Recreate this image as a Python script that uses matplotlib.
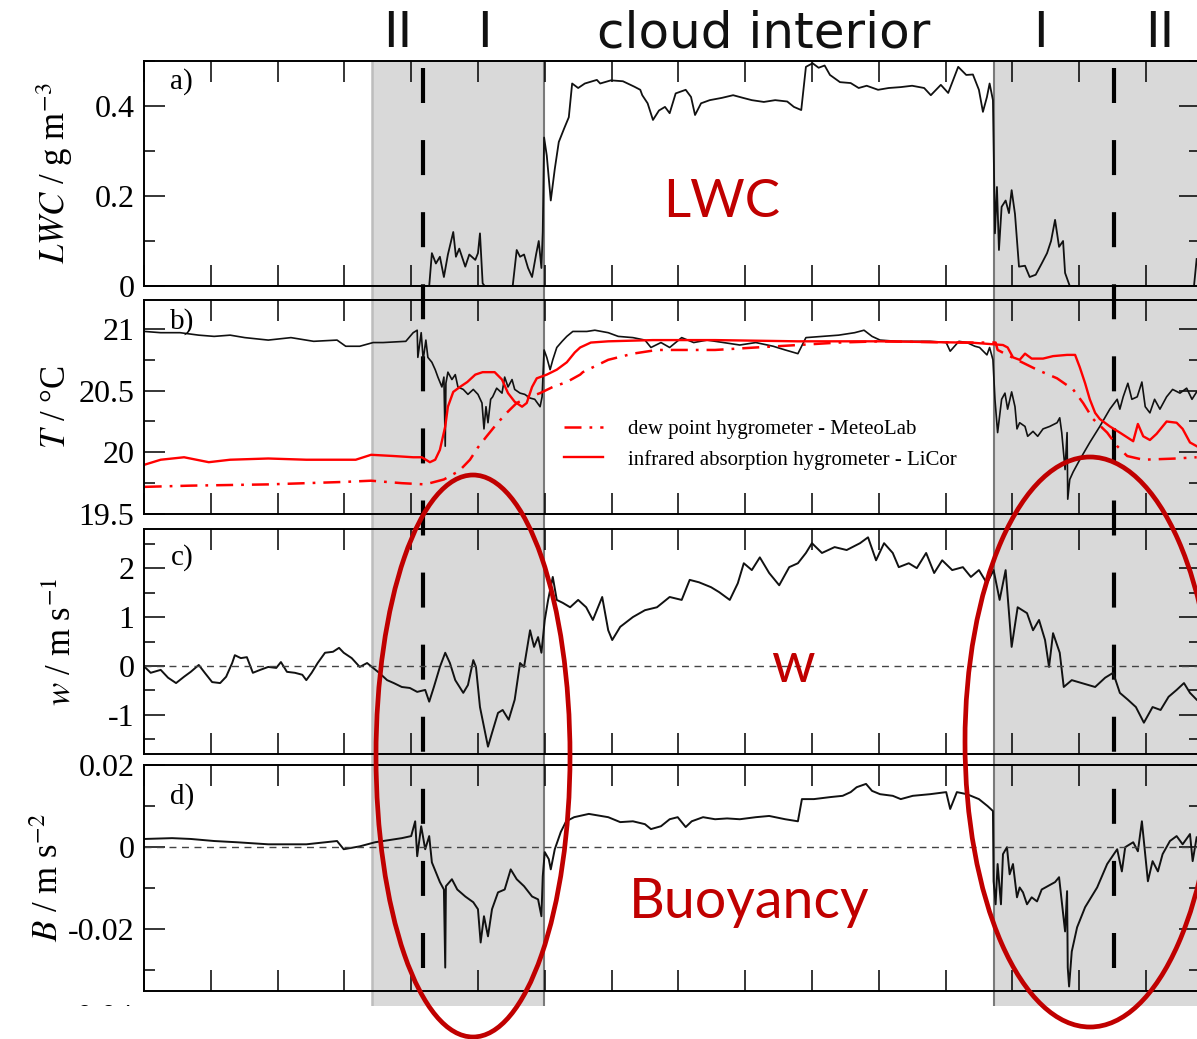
import matplotlib
matplotlib.use("Agg")
import matplotlib.pyplot as plt
from matplotlib.patches import Ellipse, Rectangle
from matplotlib.lines import Line2D
from matplotlib.ticker import MultipleLocator, FuncFormatter

plt.rcParams['font.family'] = 'serif'
plt.rcParams['font.serif'] = ['Liberation Serif', 'DejaVu Serif']
plt.rcParams['mathtext.fontset'] = 'stix'

# ---- data (time in tick units) ----
# a) liquid water content, g m^-3
t_lwc = [0.00, 4.27, 4.31, 4.37, 4.43, 4.49, 4.55, 4.63, 4.67, 4.72, 4.81, 4.87, 4.96, 5.00,
         5.03, 5.07, 5.10, 5.52, 5.58, 5.63, 5.69, 5.75, 5.81, 5.87, 5.91, 5.95, 5.97, 5.99,
         6.03, 6.09, 6.15, 6.21, 6.29, 6.36, 6.41, 6.50, 6.60, 6.78, 6.83, 6.99, 7.17, 7.34,
         7.43, 7.46, 7.54, 7.62, 7.71, 7.80, 7.87, 7.96, 8.11, 8.19, 8.25, 8.34, 8.47, 8.65,
         8.82, 8.97, 9.10, 9.28, 9.45, 9.63, 9.73, 9.84, 9.91, 10.01, 10.10, 10.19, 10.27,
         10.42, 10.58, 10.70, 10.82, 10.99, 11.15, 11.33, 11.50, 11.68, 11.78, 11.93, 12.04,
         12.19, 12.31, 12.41, 12.50, 12.56, 12.62, 12.66, 12.71, 12.74, 12.77, 12.80, 12.84,
         12.90, 12.95, 12.99, 13.04, 13.10, 13.19, 13.26, 13.35, 13.44, 13.52, 13.58, 13.64,
         13.70, 13.76, 13.79, 13.86, 15.72, 15.76]
lwc = [0, 0, 0.073, 0.05, 0.065, 0.02, 0.07, 0.12, 0.065, 0.083, 0.043, 0.07, 0.058, 0.073,
       0.117, 0.006, 0, 0, 0.08, 0.065, 0.07, 0.04, 0.02, 0.07, 0.10, 0.04, 0.12, 0.33,
       0.29, 0.19, 0.26, 0.32, 0.35, 0.375, 0.45, 0.44, 0.45, 0.458, 0.45, 0.457, 0.455, 0.443,
       0.436, 0.424, 0.406, 0.369, 0.39, 0.398, 0.384, 0.428, 0.436, 0.42, 0.38, 0.406, 0.413, 0.418,
       0.424, 0.418, 0.413, 0.409, 0.413, 0.41, 0.398, 0.391, 0.487, 0.495, 0.485, 0.49, 0.469,
       0.453, 0.451, 0.44, 0.445, 0.436, 0.44, 0.442, 0.445, 0.44, 0.424, 0.447, 0.429,
       0.487, 0.469, 0.47, 0.436, 0.387, 0.42, 0.45, 0.413, 0.117, 0.22, 0.08, 0.176,
       0.19, 0.162, 0.213, 0.16, 0.043, 0.045, 0.02, 0.025, 0.05, 0.073, 0.10, 0.147,
       0.087, 0.10, 0.029, 0, 0, 0.06]

# b) temperature and dew points, deg C
t_temp = [0.01, 0.25, 0.54, 0.82, 1.05, 1.29, 1.51, 1.86, 2.20, 2.54, 2.89, 3.02, 3.23, 3.43,
          3.58, 3.92, 4.03, 4.09, 4.10, 4.15, 4.18, 4.22, 4.25, 4.31, 4.36, 4.40, 4.46, 4.49,
          4.51, 4.52, 4.55, 4.61, 4.66, 4.70, 4.78, 4.85, 4.93, 5.00, 5.06, 5.09, 5.12, 5.15,
          5.19, 5.22, 5.28, 5.36, 5.40, 5.45, 5.51, 5.55, 5.63, 5.70, 5.78, 5.85, 5.93, 5.96,
          5.99, 6.03, 6.08, 6.12, 6.18, 6.26, 6.33, 6.42, 6.63, 6.75, 6.95, 7.10, 7.32, 7.50,
          7.59, 7.74, 7.87, 8.05, 8.23, 8.43, 8.67, 8.92, 9.16, 9.42, 9.60, 9.79, 9.91, 10.15,
          10.40, 10.64, 10.78, 10.90, 11.02, 11.27, 11.51, 11.77, 12.01, 12.07, 12.20, 12.32,
          12.44, 12.51, 12.62, 12.66, 12.71, 12.74, 12.78, 12.84, 12.89, 12.93, 12.99, 13.04,
          13.07, 13.11, 13.19, 13.23, 13.31, 13.38, 13.46, 13.56, 13.67, 13.71, 13.74, 13.79,
          13.82, 13.83, 13.86, 13.91, 14.01, 14.16, 14.31, 14.46, 14.57, 14.61, 14.66, 14.73,
          14.79, 14.87, 14.94, 14.99, 15.06, 15.13, 15.21, 15.31, 15.40, 15.51, 15.61, 15.69, 15.76]
temp = [20.98, 20.97, 20.97, 20.95, 20.94, 20.95, 20.93, 20.91, 20.93, 20.90, 20.91, 20.86, 20.86, 20.89,
        20.89, 20.90, 20.97, 20.99, 20.77, 20.97, 20.75, 20.91, 20.77, 20.73, 20.67, 20.61, 20.53, 20.61,
        20.05, 20.56, 20.65, 20.59, 20.63, 20.53, 20.51, 20.47, 20.51, 20.47, 20.40, 20.19, 20.37, 20.24,
        20.43, 20.45, 20.52, 20.48, 20.61, 20.53, 20.59, 20.51, 20.48, 20.47, 20.44, 20.43, 20.37, 20.45,
        20.83, 20.77, 20.67, 20.75, 20.85, 20.90, 20.94, 20.98, 20.98, 20.99, 20.97, 20.94, 20.93, 20.91,
        20.85, 20.89, 20.85, 20.93, 20.89, 20.91, 20.89, 20.87, 20.89, 20.86, 20.83, 20.80, 20.93, 20.94,
        20.95, 20.97, 20.99, 20.94, 20.91, 20.90, 20.90, 20.90, 20.89, 20.82, 20.90, 20.89,
        20.86, 20.85, 20.79, 20.85, 20.75, 20.43, 20.16, 20.43, 20.48, 20.35, 20.49, 20.37,
        20.19, 20.24, 20.21, 20.13, 20.17, 20.13, 20.19, 20.21, 20.24, 20.28, 20.16, 19.86,
        20.16, 19.62, 19.78, 19.84, 19.94, 20.08, 20.21, 20.35, 20.43, 20.35, 20.45, 20.56,
        20.43, 20.45, 20.57, 20.37, 20.32, 20.43, 20.35, 20.45, 20.51, 20.48, 20.52, 20.43, 20.49]

t_licor = [0.01, 0.25, 0.60, 0.97, 1.29, 1.86, 2.43, 3.17, 3.40, 3.74, 4.03, 4.16, 4.28, 4.36,
           4.43, 4.51, 4.55, 4.63, 4.73, 4.84, 4.96, 5.07, 5.25, 5.36, 5.45, 5.55, 5.66, 5.73,
           5.81, 5.88, 6.03, 6.18, 6.33, 6.45, 6.53, 6.69, 6.95, 7.62, 8.55, 9.79, 11.02, 12.26,
           12.37, 12.86, 12.93, 13.01, 13.11, 13.19, 13.29, 13.46, 13.61, 13.82, 13.94, 14.01,
           14.09, 14.16, 14.24, 14.31, 14.46, 14.61, 14.81, 14.88, 14.96, 15.06, 15.16, 15.31,
           15.46, 15.55, 15.66, 15.76]
licor = [19.90, 19.94, 19.96, 19.92, 19.94, 19.95, 19.94, 19.94, 19.98, 19.97, 19.96, 19.96, 19.92, 19.94,
         20.02, 20.21, 20.37, 20.49, 20.53, 20.57, 20.63, 20.65, 20.65, 20.59, 20.48, 20.41, 20.37, 20.40,
         20.53, 20.60, 20.63, 20.67, 20.73, 20.81, 20.85, 20.89, 20.90, 20.91, 20.91, 20.90, 20.90, 20.89,
         20.89, 20.87, 20.85, 20.77, 20.75, 20.80, 20.76, 20.76, 20.78, 20.79, 20.79, 20.69,
         20.56, 20.43, 20.32, 20.27, 20.21, 20.16, 20.09, 20.23, 20.13, 20.10, 20.15, 20.25,
         20.24, 20.19, 20.08, 20.05]

t_meteo = [0.01, 0.70, 1.86, 2.99, 3.40, 3.86, 4.21, 4.49, 4.72, 4.88, 5.00, 5.13, 5.28, 5.43,
           5.58, 5.73, 5.93, 6.12, 6.33, 6.53, 6.57, 6.95, 7.32, 7.68, 8.55, 9.16, 9.79, 10.40,
           11.02, 12.26, 12.75, 12.78, 13.07, 13.37, 13.67, 13.91, 14.06, 14.21, 14.42, 14.57,
           14.72, 14.96, 15.46, 15.76]
meteo = [19.72, 19.73, 19.74, 19.76, 19.77, 19.75, 19.74, 19.78, 19.85, 19.94, 20.04, 20.13, 20.23, 20.32,
         20.40, 20.44, 20.48, 20.53, 20.57, 20.63, 20.65, 20.75, 20.80, 20.83, 20.83, 20.85, 20.87, 20.89,
         20.90, 20.89, 20.89, 20.83, 20.75, 20.67, 20.60, 20.51, 20.40, 20.27, 20.16, 20.05,
         19.97, 19.94, 19.95, 19.96]

# c) vertical velocity, m s^-1
t_w = [0.01, 0.10, 0.25, 0.36, 0.48, 0.60, 0.70, 0.82, 0.91, 1.02, 1.14, 1.23, 1.32, 1.36, 1.45,
       1.54, 1.63, 1.74, 1.86, 1.98, 2.05, 2.14, 2.26, 2.37, 2.43, 2.51, 2.60, 2.71, 2.83, 2.92,
       2.99, 3.11, 3.23, 3.34, 3.43, 3.52, 3.64, 3.74, 3.86, 3.98, 4.09, 4.21, 4.27, 4.34, 4.43,
       4.51, 4.58, 4.66, 4.78, 4.85, 4.93, 4.97, 5.03, 5.09, 5.15, 5.21, 5.30, 5.37, 5.46, 5.55,
       5.63, 5.69, 5.78, 5.84, 5.90, 5.95, 6.00, 6.05, 6.12, 6.18, 6.27, 6.38, 6.50, 6.62, 6.72,
       6.86, 6.95, 7.01, 7.13, 7.32, 7.50, 7.68, 7.87, 8.05, 8.17, 8.31, 8.49, 8.61, 8.77, 8.89,
       8.98, 9.10, 9.22, 9.36, 9.51, 9.66, 9.79, 9.91, 10.00, 10.15, 10.34, 10.52, 10.72, 10.84,
       10.96, 11.08, 11.21, 11.30, 11.45, 11.57, 11.71, 11.83, 11.95, 12.10, 12.26, 12.38, 12.50,
       12.62, 12.72, 12.81, 12.90, 12.99, 13.08, 13.22, 13.31, 13.40, 13.49, 13.55, 13.61, 13.71,
       13.77, 13.89, 14.04, 14.24, 14.39, 14.51, 14.61, 14.73, 14.85, 14.97, 15.10, 15.22, 15.34,
       15.46, 15.57, 15.66, 15.76]
w = [-0.02, -0.14, -0.08, -0.24, -0.35, -0.22, -0.12, 0.02, -0.14, -0.33, -0.35, -0.22, 0.06, 0.22, 0.16,
     0.18, -0.14, -0.08, -0.02, -0.04, 0.08, -0.12, -0.14, -0.18, -0.29, -0.14, 0.06, 0.27, 0.29, 0.37,
     0.27, 0.16, -0.02, 0.06, -0.04, -0.14, -0.29, -0.35, -0.43, -0.45, -0.53, -0.49, -0.73, -0.43, -0.02,
     0.27, 0.06, -0.29, -0.55, -0.39, 0.12, -0.02, -0.84, -1.24, -1.65, -1.37, -0.96, -0.90, -1.10, -0.69,
     0.06, -0.02, 0.73, 0.39, 0.59, 0.27, 0.94, 1.35, 1.82, 1.35, 1.29, 1.20, 1.35, 1.20, 0.94,
     1.41, 0.73, 0.53, 0.80, 1.00, 1.14, 1.20, 1.41, 1.35, 1.76, 1.71, 1.61, 1.51, 1.35, 1.69,
     2.10, 1.96, 2.22, 1.90, 1.65, 2.02, 2.10, 2.31, 2.51, 2.31, 2.43, 2.37, 2.51, 2.63,
     2.16, 2.51, 2.31, 2.02, 2.10, 2.00, 2.31, 1.90, 2.16, 1.96, 2.02, 1.82, 1.96,
     1.69, 1.96, 1.35, 1.96, 0.39, 1.20, 1.08, 0.73, 0.94, 0.53, -0.02, 0.67, 0.27,
     -0.43, -0.29, -0.35, -0.43, -0.24, -0.14, -0.55, -0.69, -0.84, -1.16, -0.84, -0.90, -0.63,
     -0.49, -0.35, -0.55, -0.69]

# d) buoyancy, m s^-2
t_b = [0.01, 0.42, 0.70, 1.05, 1.39, 1.86, 2.43, 2.89, 2.99, 3.23, 3.46, 3.86, 4.00, 4.06, 4.09,
       4.15, 4.21, 4.27, 4.31, 4.43, 4.49, 4.51, 4.52, 4.61, 4.69, 4.81, 4.93, 5.00, 5.04, 5.09,
       5.15, 5.21, 5.30, 5.40, 5.49, 5.58, 5.69, 5.81, 5.90, 5.95, 5.97, 6.00, 6.06, 6.09, 6.15,
       6.24, 6.32, 6.44, 6.66, 6.95, 7.13, 7.32, 7.50, 7.59, 7.74, 7.87, 7.99, 8.11, 8.20, 8.37,
       8.55, 8.73, 8.92, 9.16, 9.36, 9.60, 9.79, 9.85, 10.03, 10.28, 10.46, 10.58, 10.67, 10.81,
       10.90, 11.02, 11.21, 11.33, 11.51, 11.77, 12.01, 12.07, 12.17, 12.32, 12.50, 12.63, 12.71,
       12.72, 12.75, 12.78, 12.83, 12.86, 12.92, 12.96, 13.01, 13.07, 13.11, 13.16, 13.22, 13.29,
       13.37, 13.44, 13.53, 13.64, 13.70, 13.74, 13.79, 13.82, 13.83, 13.85, 13.89, 13.97, 14.09,
       14.27, 14.42, 14.57, 14.64, 14.69, 14.81, 14.88, 14.94, 14.99, 15.03, 15.10, 15.18, 15.25,
       15.36, 15.46, 15.55, 15.66, 15.70, 15.76]
buoy = [0.0020, 0.0022, 0.0020, 0.0015, 0.0012, 0.0007, 0.0007, 0.0015, -0.0005, 0.0002, 0.0012, 0.0022,
        0.0027, 0.0063, -0.0022, 0.0051, -0.0005, 0.0027, -0.0037, -0.0085, -0.0103, -0.0293, -0.0095,
        -0.0078, -0.0103, -0.0120, -0.0134, -0.0151, -0.0232, -0.0168, -0.0217, -0.0151, -0.0110, -0.0103,
        -0.0054, -0.0078, -0.0095, -0.0120, -0.0127, -0.0168, -0.0071, -0.0012, -0.0029, -0.0054, -0.0005,
        0.0037, 0.0063, 0.0073, 0.0081, 0.0073, 0.0061, 0.0063, 0.0056, 0.0044, 0.0051, 0.0068, 0.0073,
        0.0049, 0.0063, 0.0073, 0.0068, 0.0070, 0.0068, 0.0073, 0.0076, 0.0068, 0.0063, 0.0117, 0.0117,
        0.0122, 0.0125, 0.0134, 0.0146, 0.0154, 0.0137, 0.0129, 0.0125, 0.0117, 0.0125, 0.0129, 0.0134,
        0.0093, 0.0134, 0.0129, 0.0117, 0.0100, 0.0088, -0.0083, -0.0139, -0.0041, -0.0139, -0.0017,
        0.0000, -0.0066, -0.0041, -0.0122, -0.0098, -0.0110, -0.0139, -0.0122, -0.0132, -0.0103, -0.0095,
        -0.0085, -0.0073, -0.0132, -0.0205, -0.0107, -0.0293, -0.0339, -0.0254, -0.0195, -0.0146, -0.0098,
        -0.0041, -0.0005, -0.0059, 0.0000, 0.0012, -0.0010, 0.0063, -0.0017, -0.0083, -0.0034, -0.0059,
        -0.0017, 0.0015, 0.0027, 0.0007, 0.0032, -0.0034, 0.0024]

# region boundaries and segment markers
edge_zone1 = (3.41, 5.99)
edge_zone2 = 12.72
dashed_marks = [4.18, 14.52]
top_labels = [('II', 398), ('I', 484), ('cloud interior', 764), ('I', 1040), ('II', 1160)]

# ---- layout ----
W, H = 1197, 1039
XMAX = 15.81
left, width = 144 / W, (1200 - 144) / W
panel_px = [(61, 286), (300, 514), (529, 754), (765, 991)]

fig = plt.figure(figsize=(W / 100, H / 100), dpi=100)

# background axis for the shaded zones and the dashed markers
bg = fig.add_axes([left, 33 / H, width, 945 / H])
bg.set_xlim(0, XMAX)
bg.set_ylim(0, 1)
bg.axis('off')
bg.axvspan(edge_zone1[0], edge_zone1[1], color='#d9d9d9', lw=0)
bg.axvspan(edge_zone2, XMAX, color='#d9d9d9', lw=0)
bg.axvline(edge_zone1[0], color='#bdbdbd', lw=1.8)
bg.axvline(edge_zone1[1], color='#7a7a7a', lw=1.5)
bg.axvline(edge_zone2, color='#7a7a7a', lw=1.5)
for xm in dashed_marks:
    bg.plot([xm, xm], [0.9926, 0.038], color='k', lw=3, ls=(0, (8.4, 8.9)))

axes = []
for top, bot in panel_px:
    ax = fig.add_axes([left, 1 - bot / H, width, (bot - top) / H])
    ax.set_facecolor('none')
    ax.set_xlim(0, XMAX)
    ax.xaxis.set_major_locator(MultipleLocator(1))
    ax.tick_params(which='both', direction='in', top=True, right=True,
                   labelbottom=False, labelsize=23, width=1.1, pad=7)
    ax.tick_params(which='major', length=15)
    ax.tick_params(which='minor', length=8)
    ax.tick_params(axis='x', which='minor', length=0)
    ax.yaxis.set_major_formatter(FuncFormatter(lambda v, p: '%g' % round(v, 6)))
    for s in ax.spines.values():
        s.set_linewidth(1.4)
    axes.append(ax)

ax_a, ax_b, ax_c, ax_d = axes

# a) LWC
ax_a.plot(t_lwc, lwc, color='#111111', lw=1.3)
ax_a.set_ylim(0, 0.5)
ax_a.yaxis.set_major_locator(MultipleLocator(0.2))
ax_a.yaxis.set_minor_locator(MultipleLocator(0.1))

# b) temperature
ax_b.plot(t_temp, temp, color='#111111', lw=1.2)
ax_b.plot(t_licor, licor, color='red', lw=1.7)
ax_b.plot(t_meteo, meteo, color='red', lw=1.8, ls=(0, (6.8, 3.2, 1.1, 3.2)))
ax_b.set_ylim(19.5, 21.235)
ax_b.yaxis.set_major_locator(MultipleLocator(0.5))
ax_b.yaxis.set_minor_locator(MultipleLocator(0.25))
leg_handles = [Line2D([], [], color='red', lw=1.8, ls=(0, (6.8, 3.2, 1.1, 3.2))),
               Line2D([], [], color='red', lw=1.7)]
ax_b.legend(leg_handles, ['dew point hygrometer - MeteoLab',
                          'infrared absorption hygrometer - LiCor'],
            loc='upper left', bbox_to_anchor=(0.398, 0.44), frameon=False,
            fontsize=15, handlelength=1.85, handletextpad=1.2, labelspacing=0.5,
            borderpad=0, borderaxespad=0)

# c) vertical velocity
ax_c.plot(t_w, w, color='#111111', lw=1.4)
ax_c.axhline(0, color='#444444', lw=1.0, ls=(0, (5, 4)))
ax_c.set_ylim(-1.8, 2.8)
ax_c.yaxis.set_major_locator(MultipleLocator(1))
ax_c.yaxis.set_minor_locator(MultipleLocator(0.5))

# d) buoyancy
ax_d.plot(t_b, buoy, color='#111111', lw=1.4)
ax_d.axhline(0, color='#444444', lw=1.0, ls=(0, (5, 4)))
ax_d.set_ylim(-0.035, 0.02)
ax_d.yaxis.set_major_locator(MultipleLocator(0.02))
ax_d.yaxis.set_minor_locator(MultipleLocator(0.01))
ax_d.text(-0.0095, -0.0418, '-0.04', transform=ax_d.get_yaxis_transform(),
          ha='right', va='center', fontsize=23, clip_on=False)

# axis labels and panel letters
ylabels = [r'$LWC$ / g m$^{-3}$', r'$T$ / °C', r'$w$ / m s$^{-1}$', r'$B$ / m s$^{-2}$']
label_x = [-0.065, -0.067, -0.062, -0.074]
letters = ['a)', 'b)', 'c)', 'd)']
letter_y = [0.91, 0.90, 0.875, 0.86]
for ax, lab, lx, let, ly in zip(axes, ylabels, label_x, letters, letter_y):
    ax.set_ylabel(lab, fontsize=25)
    ax.yaxis.set_label_coords(lx, 0.5)
    ax.text(0.025, ly, let, transform=ax.transAxes, fontsize=21, va='center')

# crop below the lower panel
fig.add_artist(Rectangle((0, 0), 1, 33 / H, transform=fig.transFigure,
                         facecolor='white', edgecolor='none', zorder=5))

# segment names along the top
for txt, xp in top_labels:
    fig.text(xp / W, 1 - 47 / H, txt, ha='center', va='baseline',
             fontsize=36, family='DejaVu Sans', color='#111111')

# highlighted entrainment zones
red = '#c00000'
fig.add_artist(Ellipse((473 / W, 1 - 756 / H), 194 / W, 562 / H, transform=fig.transFigure,
                       fill=False, ec=red, lw=3.4, zorder=10))
fig.add_artist(Ellipse((1090 / W, 1 - 742 / H), 250 / W, 570 / H, transform=fig.transFigure,
                       fill=False, ec=red, lw=3.4, zorder=10))
for txt, xp, yp in [('LWC', 722, 217), ('w', 793, 682), ('Buoyancy', 749, 918)]:
    fig.text(xp / W, 1 - yp / H, txt, ha='center', va='baseline',
             fontsize=38 if txt == 'LWC' else 40,
             family='Lato', color=red, zorder=11)

fig.savefig('out.png', dpi=100)
